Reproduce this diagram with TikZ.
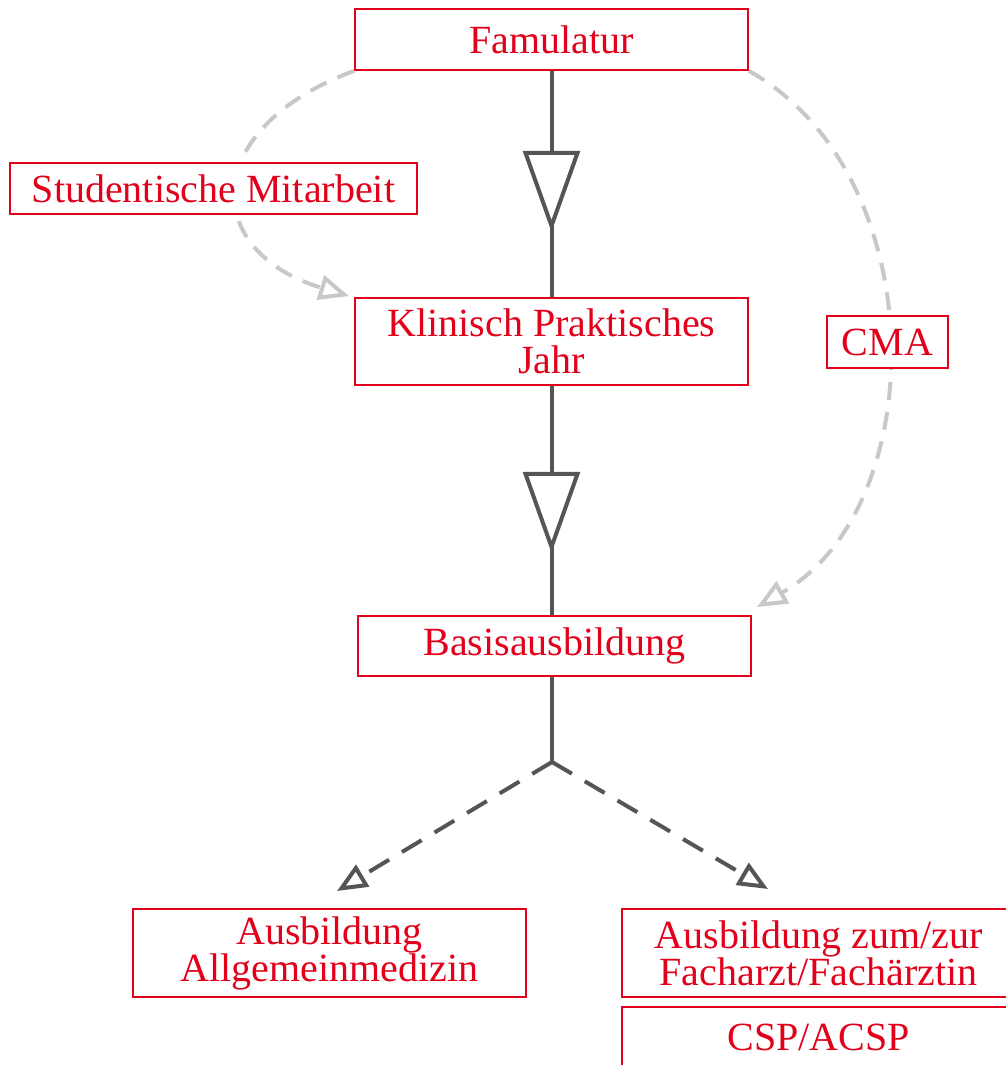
\documentclass[tikz,border=0pt]{standalone}
\usepackage{fontspec}
\setmainfont{Liberation Serif}
\usetikzlibrary{arrows.meta,calc}
\definecolor{dbred}{HTML}{E2001A}
\definecolor{dgrey}{HTML}{555555}
\definecolor{lgrey}{HTML}{C8C8C8}
\pgfdeclarelayer{bg}
\pgfsetlayers{bg,main}
\begin{document}
\begin{tikzpicture}[x=1pt,y=-1pt,
  box/.style={draw=dbred, line width=1.8pt, fill=white, text=dbred, inner sep=0pt, align=center,
    font=\fontsize{40}{37}\selectfont, minimum width=393pt},
  flow/.style={draw=dgrey, line width=4pt},
  tri/.style={draw=dgrey, line width=4pt, fill=white, line join=miter},
  opt/.style={draw=dgrey, line width=4pt, dash pattern=on 23pt off 15pt,
    -{Triangle[open, length=30pt, width=25pt]}},
  side/.style={draw=lgrey, line width=4pt, dash pattern=on 18pt off 12pt,
    -{Triangle[open, length=30pt, width=25pt]}},
]
\useasboundingbox (0,0) rectangle (1006,1065);
\clip (0,0) rectangle (1006,1065);

\node[box, minimum height=61pt] (fam) at (551.5,39.5) {Famulatur};
\node[box, minimum width=407pt, minimum height=51pt] (stud) at (213.5,188.5) {Studentische Mitarbeit};
\node[box, minimum height=87pt] (kpj) at (551.5,341.5) {Klinisch Praktisches\\Jahr};
\node[box, minimum width=121pt, minimum height=52pt] (cma) at (887.5,342) {CMA};
\node[box, minimum height=60pt] (basis) at (554.5,646) {Basisausbildung};
\node[box, minimum height=88pt] (allg) at (329.5,953) {Ausbildung\\Allgemeinmedizin};
\node[box, minimum height=88pt] (fach) at (818.5,953) {Ausbildung zum/zur\\Facharzt/Fachärztin};
\node[box, minimum height=60pt] (csp) at (818.5,1037) {CSP/ACSP};

\coordinate (split) at (552,762);
\coordinate (tipA) at (337,891);
\coordinate (tipF) at (768,889);

\begin{pgfonlayer}{bg}
\draw[side] (fam.south west) .. controls (200,128) and (200,251) .. ([shift={(-5,-1)}]kpj.north west);
\draw[side] (fam.south east) .. controls (933,174) and (933,506) .. ([shift={(5,-8)}]basis.north east);
\end{pgfonlayer}

\draw[flow] (fam.south) -- (kpj.north);
\draw[tri] ($(fam.south)+(-26,82)$) -- ++(52,0) -- ++(-26,73) -- cycle;
\draw[flow] (kpj.south) -- (kpj.south |- basis.north);
\draw[tri] ($(kpj.south)+(-26,88)$) -- ++(52,0) -- ++(-26,73) -- cycle;
\draw[flow] (split |- basis.south) -- (split);
\draw[opt] (split) -- (tipA);
\draw[opt] (split) -- (tipF);
\end{tikzpicture}
\end{document}
